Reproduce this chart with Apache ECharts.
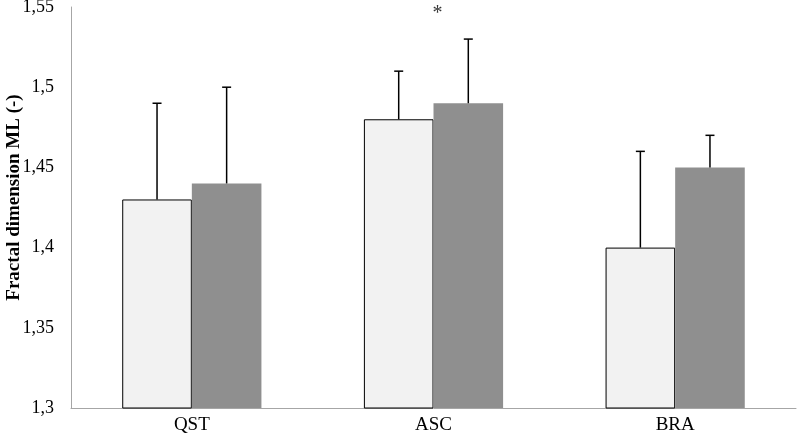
<!DOCTYPE html>
<html><head><meta charset="utf-8">
<script src="https://cdn.jsdelivr.net/npm/echarts@6/dist/echarts.min.js"></script>
<style>html,body{margin:0;padding:0;background:#fff}#c{width:797px;height:440px}</style>
</head><body><div id="c"></div>
<script>
var categories = ['QST', 'ASC', 'BRA'];
var seriesA = [1.43, 1.48, 1.40];
var seriesAErrTop = [1.49, 1.51, 1.46];
var seriesB = [1.44, 1.49, 1.45];
var seriesBErrTop = [1.50, 1.53, 1.47];
var yTicks = [1.3, 1.35, 1.4, 1.45, 1.5, 1.55];
var starMarks = [['ASC', 1.547]];

var BAR_W = 0.288;
var font = '"Liberation Serif", "Times New Roman", serif';

function errSeries(vals, tops, side) {
  return {
    type: 'custom',
    z: 5,
    data: vals.map(function (v, i) { return [i, v, tops[i]]; }),
    renderItem: function (params, api) {
      var bw = api.size([1, 0])[0] * BAR_W;
      var p0 = api.coord([api.value(0), api.value(1)]);
      var p1 = api.coord([api.value(0), api.value(2)]);
      var x = p0[0] + side * bw / 2;
      var style = { stroke: '#000', lineWidth: 1.5 };
      return {
        type: 'group',
        children: [
          { type: 'line', shape: { x1: x, y1: p0[1], x2: x, y2: p1[1] }, style: style },
          { type: 'line', shape: { x1: x - 4.5, y1: p1[1], x2: x + 4.5, y2: p1[1] }, style: style }
        ]
      };
    }
  };
}

var chart = echarts.init(document.getElementById('c'));
chart.setOption({
  animation: false,
  grid: { left: 71, right: 1, top: 7, bottom: 32, outerBoundsMode: 'none', containLabel: false },
  xAxis: {
    type: 'category',
    data: categories,
    axisLine: { lineStyle: { color: '#a6a6a6', width: 1 } },
    axisTick: { show: false },
    axisLabel: { color: '#000', fontFamily: font, fontSize: 19, margin: 8 }
  },
  yAxis: {
    type: 'value',
    min: 1.3, max: 1.55, interval: 0.05,
    name: 'Fractal dimension ML (-)',
    nameLocation: 'middle',
    nameGap: 47,
    nameMoveOverlap: false,
    nameTextStyle: { color: '#000', fontFamily: font, fontSize: 19, fontWeight: 'bold', padding: [0, 0, 0, 20] },
    axisLine: { show: true, lineStyle: { color: '#a6a6a6', width: 1 } },
    axisTick: { show: false },
    splitLine: { show: false },
    axisLabel: {
      color: '#000', fontFamily: font, fontSize: 18, margin: 17,
      formatter: function (v) {
        var t = yTicks.reduce(function (a, b) { return Math.abs(b - v) < Math.abs(a - v) ? b : a; });
        return String(+t.toFixed(2)).replace('.', ',');
      }
    }
  },
  series: [
    {
      type: 'bar', data: seriesA, barWidth: (BAR_W * 100) + '%', barGap: '0%',
      itemStyle: { color: '#f2f2f2', borderColor: '#000', borderWidth: 1 }
    },
    {
      type: 'bar', data: seriesB, barWidth: (BAR_W * 100) + '%', barGap: '0%',
      itemStyle: { color: '#8f8f8f' }
    },
    errSeries(seriesA, seriesAErrTop, -1),
    errSeries(seriesB, seriesBErrTop, 1),
    {
      type: 'scatter', data: starMarks, symbolSize: 0, z: 6,
      label: { show: true, position: 'inside', offset: [4, 2], formatter: '*', color: '#000', fontFamily: font, fontSize: 20 }
    }
  ]
});
</script></body></html>
